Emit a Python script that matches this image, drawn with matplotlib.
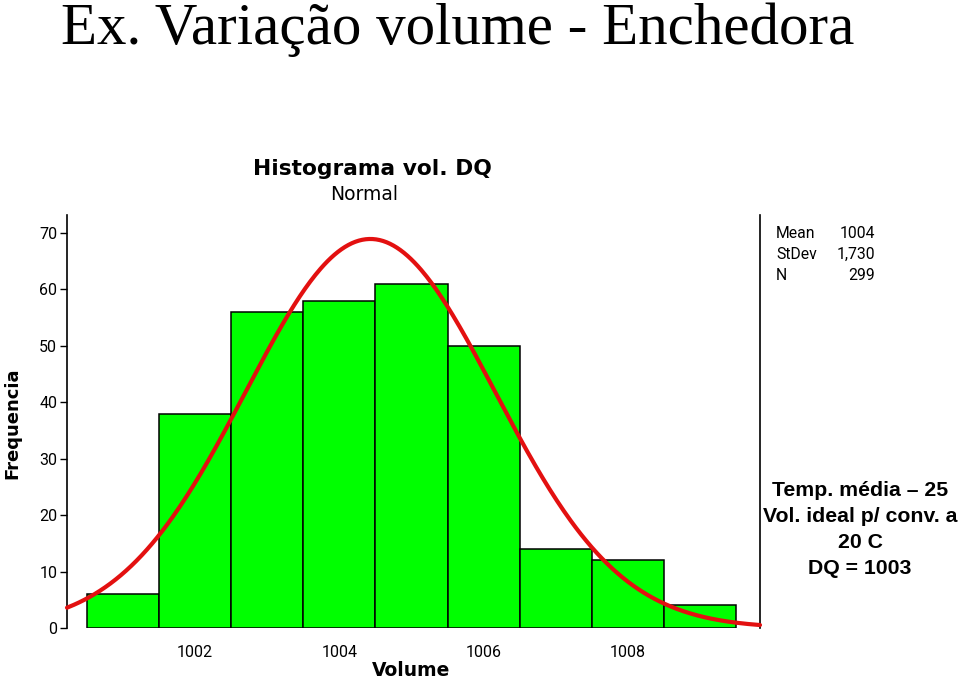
import numpy as np
import matplotlib
matplotlib.use("Agg")
import matplotlib.pyplot as plt

# ---- data ----
bin_centers = [1001, 1002, 1003, 1004, 1005, 1006, 1007, 1008, 1009]
counts = [6, 38, 56, 58, 61, 50, 14, 12, 4]
bin_width = 1.0
mean = 1004.43
stdev = 1.730
n_obs = 299
x_ticks = [1002, 1004, 1006, 1008]
y_ticks = [0, 10, 20, 30, 40, 50, 60, 70]
note_lines = ["Temp. média \u2013 25", "Vol. ideal p/ conv. a", "20 C", "DQ = 1003"]

W, H = 960, 679
fig = plt.figure(figsize=(W / 100, H / 100), dpi=100)

def fx(px):
    return px / W

def fy(py):
    return 1 - py / H

ax = fig.add_axes([fx(67), fy(628), fx(760) - fx(67), fy(215) - fy(628)])

ax.bar(bin_centers, counts, width=bin_width, color="#00ff00",
       edgecolor="black", linewidth=1.1, zorder=2)

xs = np.linspace(1000.226, 1009.83, 400)
pdf = n_obs * bin_width / (stdev * np.sqrt(2 * np.pi)) * np.exp(-0.5 * ((xs - mean) / stdev) ** 2)
ax.plot(xs, pdf, color="#e31010", linewidth=3.0, zorder=3, solid_capstyle="round", clip_on=False)

ax.set_xlim(1000.226, 1009.83)
ax.set_ylim(0, 73.2)

for s in ["top", "bottom"]:
    ax.spines[s].set_visible(False)
for s in ["left", "right"]:
    ax.spines[s].set_linewidth(1.2)
    ax.spines[s].set_color("black")

ax.set_xticks(x_ticks)
ax.set_xticklabels([str(t) for t in x_ticks], fontsize=11.5, family="Roboto")
ax.tick_params(axis="x", length=0, pad=12)
ax.set_yticks(y_ticks)
ax.set_yticklabels([str(t) for t in y_ticks], fontsize=11.5, family="Roboto")
ax.tick_params(axis="y", length=5, width=1, direction="out", pad=2)

fig.text(fx(411), fy(670), "Volume", ha="center", va="center",
         fontsize=13.5, fontweight="bold", family="DejaVu Sans")
fig.text(fx(12), fy(423), "Frequencia", ha="center", va="center", rotation=90,
         fontsize=13, fontweight="bold", family="DejaVu Sans")

fig.text(fx(372), fy(169), "Histograma vol. DQ", ha="center", va="center",
         fontsize=15.7, fontweight="bold", family="DejaVu Sans")
fig.text(fx(364), fy(194), "Normal", ha="center", va="center",
         fontsize=13.5, family="DejaVu Sans")

fig.text(fx(458), fy(44), "Ex. Varia\u00e7\u00e3o volume - Enchedora", ha="center", va="baseline",
         fontsize=42.5, family="Liberation Serif")

stats = [("Mean", f"{mean:.0f}"), ("StDev", f"{stdev:.3f}".replace(".", ",")), ("N", f"{n_obs}")]
for i, (lab, val) in enumerate(stats):
    yy = fy(233 + i * 21.5)
    fig.text(fx(776), yy, lab, ha="left", va="center", fontsize=11.3, family="Roboto")
    fig.text(fx(875), yy, val, ha="right", va="center", fontsize=11.3, family="Roboto")

for i, line in enumerate(note_lines):
    fig.text(fx(860), fy(491 + i * 26), line, ha="center", va="center",
             fontsize=15.3, fontweight="bold", family="Liberation Sans")

fig.savefig("out.png", dpi=100)
